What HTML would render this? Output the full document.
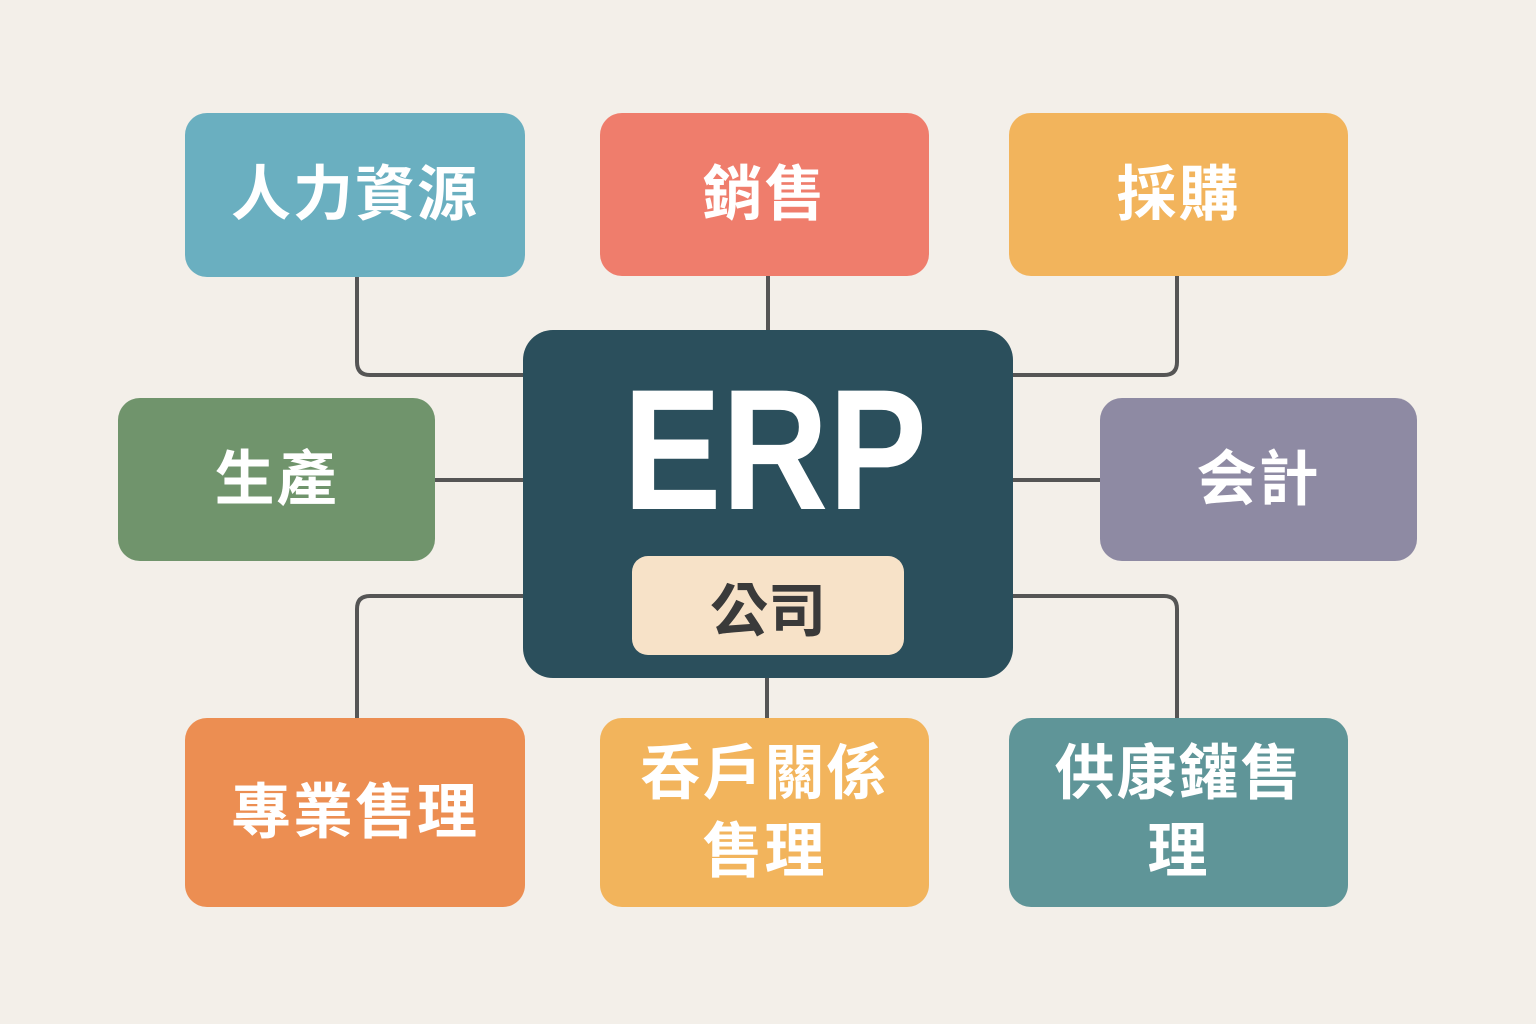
<!DOCTYPE html>
<html><head><meta charset="utf-8"><style>
body{margin:0;width:1536px;height:1024px;background:#f3efe9;position:relative;overflow:hidden;font-family:"Liberation Sans","Noto Sans CJK TC",sans-serif}
.b{position:absolute;border-radius:22px;color:#fff;font-weight:bold;font-size:60px;display:flex;align-items:center;justify-content:center;text-align:center;line-height:1.3;letter-spacing:2px}
svg{position:absolute;left:0;top:0}
</style></head><body>
<svg width="1536" height="1024"><g fill="none" stroke="#555" stroke-width="4">
<path d="M357 277 V362 Q357 375 370 375 H523"/>
<path d="M768 276 V330"/>
<path d="M1177 276 V362 Q1177 375 1164 375 H1013"/>
<path d="M435 480 H523"/>
<path d="M1013 480 H1100"/>
<path d="M357 718 V609 Q357 596 370 596 H523"/>
<path d="M767 678 V718"/>
<path d="M1177 718 V609 Q1177 596 1164 596 H1013"/>
</g></svg>
<div class="b" style="left:185px;top:113px;width:340px;height:164px;background:#6aafc0">人力資源</div>
<div class="b" style="left:600px;top:113px;width:329px;height:163px;background:#ef7d6c">銷售</div>
<div class="b" style="left:1009px;top:113px;width:339px;height:163px;background:#f2b45c">採購</div>
<div class="b" style="left:118px;top:398px;width:317px;height:163px;background:#70946c">生產</div>
<div class="b" style="left:1100px;top:398px;width:317px;height:163px;background:#8e8aa3">会計</div>
<div class="b" style="left:185px;top:718px;width:340px;height:189px;background:#ec8e52">專業售理</div>
<div class="b" style="left:600px;top:718px;width:329px;height:189px;background:#f2b45c">呑戶關係<br>售理</div>
<div class="b" style="left:1009px;top:718px;width:339px;height:189px;background:#5f9598">供康鑵售<br>理</div>
<div style="position:absolute;left:523px;top:330px;width:490px;height:348px;background:#2b4f5c;border-radius:30px"></div>
<div style="position:absolute;left:525px;top:365px;width:500px;text-align:center;color:#fff;font-weight:bold;font-size:172px;line-height:170px;transform:scaleX(0.86);transform-origin:50% 50%">ERP</div>
<div style="position:absolute;left:632px;top:556px;width:272px;height:99px;background:#f7e2c8;border-radius:16px;display:flex;align-items:center;justify-content:center;color:#3a3a3a;font-size:58px;font-weight:bold">公司</div>
</body></html>
